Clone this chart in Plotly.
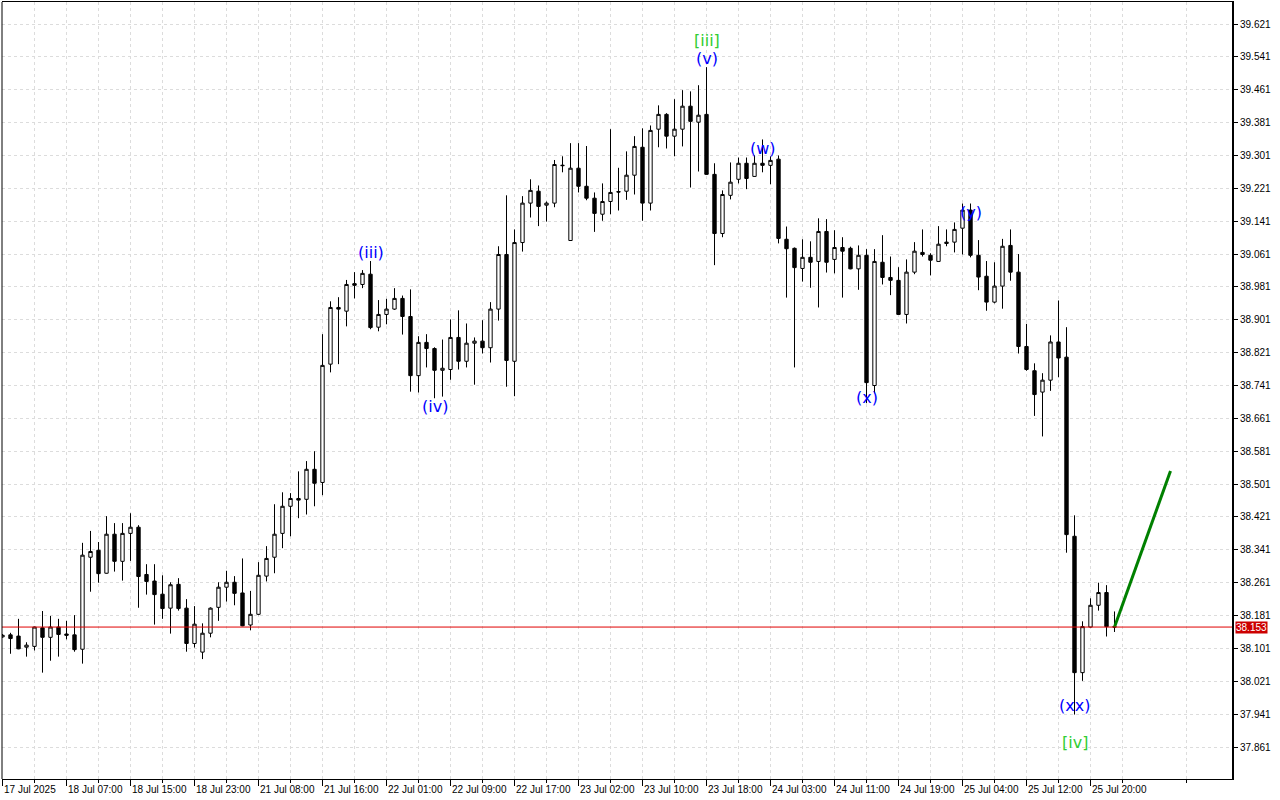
import plotly.graph_objects as go

# ---------------- data ----------------
opens = [38.129,38.134,38.131,38.104,38.106,38.151,38.128,38.153,38.136,38.134,
         38.099,38.323,38.340,38.284,38.379,38.313,38.381,38.396,38.281,38.265,
         38.233,38.199,38.257,38.199,38.113,38.092,38.138,38.201,38.250,38.262,
         38.236,38.158,38.184,38.277,38.323,38.381,38.447,38.466,38.464,38.537,
         38.505,38.793,38.931,38.922,38.989,38.987,39.012,38.883,38.914,38.927,
         38.953,38.909,38.765,38.846,38.831,38.778,38.780,38.858,38.800,38.844,
         38.849,38.833,38.927,39.060,38.800,39.089,39.185,39.214,39.180,39.185,
         39.276,39.094,39.270,39.226,39.197,39.158,39.189,39.213,39.214,39.253,
         39.321,39.185,39.365,39.401,39.348,39.365,39.421,39.382,39.401,39.255,
         39.111,39.204,39.243,39.282,39.250,39.282,39.277,39.292,39.097,39.075,
         39.026,39.053,39.043,39.116,39.048,39.077,39.075,39.025,39.058,38.741,
         39.041,39.004,38.997,38.914,39.017,39.065,39.058,39.043,39.090,39.090,
         39.124,39.168,39.058,39.007,38.944,38.983,39.082,39.017,38.836,38.777,
         38.725,38.754,38.847,38.810,38.374,38.042,38.153,38.206,38.237,38.154]
highs = [38.136,38.139,38.173,38.116,38.154,38.192,38.180,38.173,38.168,38.182,
         38.358,38.387,38.360,38.423,38.406,38.406,38.430,38.401,38.306,38.306,
         38.279,38.262,38.272,38.221,38.204,38.162,38.201,38.262,38.290,38.277,
         38.320,38.241,38.311,38.350,38.452,38.481,38.479,38.532,38.557,38.581,
         38.866,38.946,38.956,38.998,39.017,39.022,39.044,38.949,38.952,38.978,
         38.960,38.975,38.861,38.866,38.834,38.853,38.902,38.924,38.892,38.858,
         38.900,38.944,39.080,39.204,39.121,39.202,39.243,39.228,39.189,39.290,
         39.299,39.331,39.331,39.324,39.211,39.233,39.365,39.271,39.311,39.348,
         39.367,39.374,39.423,39.404,39.438,39.460,39.457,39.472,39.516,39.282,
         39.216,39.284,39.296,39.296,39.301,39.340,39.299,39.301,39.128,39.077,
         39.097,39.092,39.148,39.146,39.119,39.102,39.079,39.082,39.073,39.073,
         39.107,39.055,39.029,39.048,39.090,39.121,39.063,39.129,39.121,39.138,
         39.184,39.184,39.095,39.044,39.041,39.098,39.121,39.061,38.891,38.795,
         38.771,38.863,38.948,38.883,38.425,38.167,38.223,38.261,38.255,38.191]
lows = [38.127,38.088,38.099,38.081,38.096,38.042,38.071,38.081,38.123,38.093,
        38.064,38.239,38.261,38.283,38.288,38.266,38.314,38.200,38.232,38.159,
        38.173,38.137,38.193,38.093,38.103,38.075,38.128,38.168,38.215,38.206,
        38.155,38.145,38.182,38.264,38.284,38.345,38.374,38.418,38.427,38.447,
        38.474,38.773,38.793,38.885,38.953,38.978,38.878,38.873,38.890,38.925,
        38.865,38.726,38.724,38.785,38.710,38.714,38.755,38.780,38.785,38.743,
        38.819,38.797,38.899,38.738,38.715,39.067,39.150,39.129,39.140,39.175,
        39.260,39.093,39.211,39.192,39.115,39.142,39.158,39.167,39.193,39.206,
        39.142,39.167,39.321,39.318,39.299,39.323,39.223,39.262,39.254,39.034,
        39.102,39.194,39.233,39.219,39.249,39.260,39.231,39.087,38.955,38.785,
        38.994,38.979,38.931,39.016,39.014,38.955,39.024,38.974,38.698,38.722,
        38.987,38.961,38.913,38.892,39.012,39.055,39.009,39.043,39.080,39.065,
        39.060,39.053,38.973,38.923,38.941,38.928,38.996,38.819,38.777,38.667,
        38.617,38.728,38.761,38.334,37.940,38.022,38.152,38.193,38.130,38.141]
closes = [38.133,38.125,38.100,38.109,38.153,38.128,38.153,38.135,38.133,38.098,
          38.328,38.337,38.283,38.379,38.313,38.381,38.396,38.276,38.264,38.232,
          38.198,38.256,38.198,38.113,38.160,38.138,38.199,38.250,38.262,38.235,
          38.156,38.184,38.279,38.320,38.379,38.447,38.466,38.462,38.537,38.503,
          38.790,38.931,38.927,38.987,38.985,39.014,38.882,38.914,38.927,38.953,
          38.909,38.765,38.846,38.831,38.778,38.783,38.858,38.800,38.844,38.849,
          38.833,38.927,39.060,38.802,39.089,39.185,39.216,39.177,39.185,39.279,
          39.277,39.270,39.226,39.197,39.160,39.189,39.211,39.212,39.253,39.323,
          39.185,39.362,39.401,39.348,39.365,39.421,39.384,39.399,39.255,39.111,
          39.206,39.236,39.282,39.245,39.282,39.277,39.289,39.099,39.074,39.028,
          39.053,39.041,39.116,39.041,39.077,39.068,39.025,39.058,38.748,39.043,
          39.004,38.997,38.914,39.017,39.068,39.060,39.046,39.085,39.087,39.121,
          39.168,39.058,39.005,38.944,38.983,39.080,39.017,38.836,38.780,38.719,
          38.754,38.847,38.808,38.378,38.042,38.154,38.206,38.237,38.154,38.153]

time_labels = ["17 Jul 2025", "18 Jul 07:00", "18 Jul 15:00", "18 Jul 23:00",
               "21 Jul 08:00", "21 Jul 16:00", "22 Jul 01:00", "22 Jul 09:00",
               "22 Jul 17:00", "23 Jul 02:00", "23 Jul 10:00", "23 Jul 18:00",
               "24 Jul 03:00", "24 Jul 11:00", "24 Jul 19:00", "25 Jul 04:00",
               "25 Jul 12:00", "25 Jul 20:00"]
label_bars = [0, 8, 16, 24, 32, 40, 48, 56, 64, 72, 80, 88, 96, 104, 112, 120, 128, 136]

price_ticks = [37.861, 37.941, 38.021, 38.101, 38.181, 38.261, 38.341, 38.421,
               38.501, 38.581, 38.661, 38.741, 38.821, 38.901, 38.981, 39.061,
               39.141, 39.221, 39.301, 39.381, 39.461, 39.541, 39.621]

current_price = 38.153

wave_texts = ["(iii)", "(iv)", "[iii]", "(v)", "(w)", "(x)", "(y)", "(xx)", "[iv]"]
wave_bars = [46, 54, 88, 88, 95, 108, 121, 134, 134]
wave_prices = [39.064, 38.689, 39.582, 39.537, 39.319, 38.711, 39.161, 37.961, 37.873]
wave_colors = ["blue", "blue", "limegreen", "blue", "blue", "blue", "blue", "blue", "limegreen"]

forecast_bars = [139, 146]
forecast_prices = [38.153, 38.533]

# ---------------- figure ----------------
bars = list(range(len(opens)))
GRID = "#dcdcdc"

fig = go.Figure()
fig.add_trace(go.Candlestick(
    x=bars, open=opens, high=highs, low=lows, close=closes,
    increasing=dict(line=dict(color="black", width=1), fillcolor="white"),
    decreasing=dict(line=dict(color="black", width=1), fillcolor="black"),
    whiskerwidth=0, hoverinfo="skip", showlegend=False))

fig.add_trace(go.Scatter(x=forecast_bars, y=forecast_prices, mode="lines",
                         line=dict(color="#008000", width=3),
                         hoverinfo="skip", showlegend=False))

fig.add_hline(y=current_price, line=dict(color="#e00000", width=1), layer="above")

for t, b, p, c in zip(wave_texts, wave_bars, wave_prices, wave_colors):
    fig.add_annotation(x=b, y=p, text=t, showarrow=False, xanchor="center",
                       yanchor="middle",
                       font=dict(family="DejaVu Sans", size=16, color=c))

for b, t in zip(label_bars, time_labels):
    fig.add_annotation(x=b, xref="x", y=0, yref="paper", text=t, showarrow=False,
                       xanchor="left", yanchor="top", xshift=-1, yshift=-3,
                       font=dict(family="Liberation Sans", size=10, color="black"))

fig.add_annotation(x=1, xref="paper", y=current_price, yref="y",
                   text=f"{current_price:.3f}", showarrow=False, xanchor="left",
                   yanchor="middle", xshift=3, bgcolor="#cc0000", borderpad=0,
                   font=dict(family="Liberation Sans", size=10, color="white"))

# left border
fig.add_shape(type="line", xref="paper", yref="paper", x0=0, x1=0, y0=0, y1=1,
              line=dict(color="black", width=1))

minor_vals = [v for v in range(4, 154, 8)]

fig.update_layout(
    template="none",
    width=1280, height=800,
    margin=dict(l=2, r=48, t=2, b=21, autoexpand=False),
    paper_bgcolor="white", plot_bgcolor="white",
    showlegend=False,
    boxgap=0.4,
    xaxis=dict(range=[-0.0625, 153.6875], rangeslider=dict(visible=False),
               tickmode="array", tickvals=label_bars, showticklabels=False,
               ticks="outside", ticklen=6, tickcolor="black", tickwidth=1,
               showgrid=True, gridcolor=GRID, griddash="3px,3px", gridwidth=1,
               showline=True, linecolor="black", linewidth=1, mirror=True,
               zeroline=False, automargin=False,
               minor=dict(tickvals=minor_vals, ticks="outside", ticklen=3,
                          tickcolor="black", showgrid=True, gridcolor=GRID,
                          griddash="3px,3px")),
    yaxis=dict(range=[37.7831, 39.6746], side="right",
               tickmode="array", tickvals=price_ticks,
               ticktext=[f"{v:.3f}" for v in price_ticks],
               ticks="outside", ticklen=4, tickcolor="black",
               tickfont=dict(family="Liberation Sans", size=10, color="black"),
               showgrid=True, gridcolor=GRID, griddash="3px,3px",
               showline=True, linecolor="black", linewidth=2,
               zeroline=False, automargin=False),
)

fig.write_html("out.html", config={"displayModeBar": False},
               post_script="document.body.style.margin='0';document.body.style.overflow='hidden';")
